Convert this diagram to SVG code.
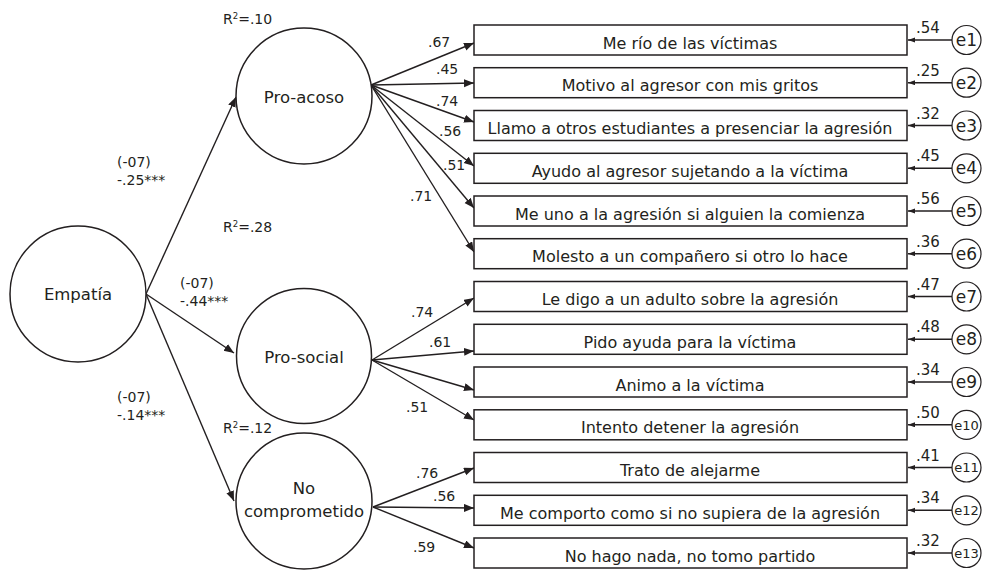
<svg xmlns="http://www.w3.org/2000/svg" width="983" height="570" viewBox="0 0 983 570">
<style>
text{font-family:"DejaVu Sans","Noto Sans",sans-serif;fill:#231f20}
.lat{fill:#fff;stroke:#231f20;stroke-width:1.5}
.box{fill:#fff;stroke:#231f20;stroke-width:1.5}
.err{fill:#fff;stroke:#231f20;stroke-width:1.2}
.c{stroke:#231f20;stroke-width:1.4;fill:none}
.lt{font-size:16.5px;text-anchor:middle}
.bt{font-size:16px;text-anchor:middle}
.w{font-size:14px}
.el{font-size:15px}
.et{font-size:17px;text-anchor:middle}
.es{font-size:13px;text-anchor:middle}
</style>
<defs>
<marker id="ah" markerUnits="userSpaceOnUse" markerWidth="11" markerHeight="9" refX="10" refY="4" orient="auto">
<path d="M0,0 L10,4 L0,8 Z" fill="#231f20"/>
</marker>
<marker id="as" markerUnits="userSpaceOnUse" markerWidth="8" markerHeight="6" refX="7" refY="2.5" orient="auto">
<path d="M0,0 L7,2.5 L0,5 Z" fill="#231f20"/>
</marker>
</defs>

<g id="connectors">
<line class="c" x1="146" y1="294" x2="236" y2="97" marker-end="url(#ah)"/>
<line class="c" x1="146" y1="294" x2="234" y2="353" marker-end="url(#ah)"/>
<line class="c" x1="146" y1="294" x2="234" y2="501" marker-end="url(#ah)"/>
<line class="c" x1="371" y1="85" x2="474" y2="43" marker-end="url(#ah)"/>
<line class="c" x1="371" y1="85" x2="474" y2="83" marker-end="url(#ah)"/>
<line class="c" x1="371" y1="85" x2="474" y2="122" marker-end="url(#ah)"/>
<line class="c" x1="371" y1="85" x2="474" y2="166" marker-end="url(#ah)"/>
<line class="c" x1="371" y1="85" x2="474" y2="208" marker-end="url(#ah)"/>
<line class="c" x1="371" y1="85" x2="474" y2="252" marker-end="url(#ah)"/>
<line class="c" x1="372" y1="360" x2="474" y2="298" marker-end="url(#ah)"/>
<line class="c" x1="372" y1="360" x2="474" y2="351" marker-end="url(#ah)"/>
<line class="c" x1="372" y1="360" x2="474" y2="390" marker-end="url(#ah)"/>
<line class="c" x1="372" y1="360" x2="474" y2="420" marker-end="url(#ah)"/>
<line class="c" x1="373" y1="507" x2="474" y2="468" marker-end="url(#ah)"/>
<line class="c" x1="373" y1="507" x2="474" y2="508" marker-end="url(#ah)"/>
<line class="c" x1="373" y1="507" x2="474" y2="548" marker-end="url(#ah)"/>
<line class="c" x1="952" y1="40" x2="908" y2="40" marker-end="url(#as)"/>
<line class="c" x1="952" y1="82.7" x2="908" y2="82.7" marker-end="url(#as)"/>
<line class="c" x1="952" y1="125.5" x2="908" y2="125.5" marker-end="url(#as)"/>
<line class="c" x1="952" y1="168.3" x2="908" y2="168.3" marker-end="url(#as)"/>
<line class="c" x1="952" y1="211" x2="908" y2="211" marker-end="url(#as)"/>
<line class="c" x1="952" y1="253.7" x2="908" y2="253.7" marker-end="url(#as)"/>
<line class="c" x1="952" y1="296.5" x2="908" y2="296.5" marker-end="url(#as)"/>
<line class="c" x1="952" y1="339.3" x2="908" y2="339.3" marker-end="url(#as)"/>
<line class="c" x1="952" y1="382" x2="908" y2="382" marker-end="url(#as)"/>
<line class="c" x1="952" y1="424.8" x2="908" y2="424.8" marker-end="url(#as)"/>
<line class="c" x1="952" y1="467.5" x2="908" y2="467.5" marker-end="url(#as)"/>
<line class="c" x1="952" y1="510.3" x2="908" y2="510.3" marker-end="url(#as)"/>
<line class="c" x1="952" y1="553" x2="908" y2="553" marker-end="url(#as)"/>
<!-- path coefficients -->
<text class="w" x="117" y="167">(-07)</text>
<text class="w" x="117" y="185">-.25***</text>
<text class="w" x="180" y="288">(-07)</text>
<text class="w" x="180" y="306">-.44***</text>
<text class="w" x="117" y="402">(-07)</text>
<text class="w" x="117" y="420">-.14***</text>
<text class="w" x="428" y="47">.67</text>
<text class="w" x="436" y="74">.45</text>
<text class="w" x="436" y="106">.74</text>
<text class="w" x="439" y="136">.56</text>
<text class="w" x="443" y="170">.51</text>
<text class="w" x="410" y="201">.71</text>
<text class="w" x="411" y="317">.74</text>
<text class="w" x="429" y="347">.61</text>
<text class="w" x="406" y="412">.51</text>
<text class="w" x="416" y="478">.76</text>
<text class="w" x="433" y="501">.56</text>
<text class="w" x="413" y="552">.59</text>
<!-- error loadings -->
<text class="el" x="916" y="33">.54</text>
<text class="el" x="916" y="75.7">.25</text>
<text class="el" x="916" y="118.5">.32</text>
<text class="el" x="916" y="161.3">.45</text>
<text class="el" x="916" y="204">.56</text>
<text class="el" x="916" y="246.7">.36</text>
<text class="el" x="916" y="289.5">.47</text>
<text class="el" x="916" y="332.3">.48</text>
<text class="el" x="916" y="375">.34</text>
<text class="el" x="916" y="417.8">.50</text>
<text class="el" x="916" y="460.5">.41</text>
<text class="el" x="916" y="503.3">.34</text>
<text class="el" x="916" y="546">.32</text>
</g>

<g id="empatia">
<circle class="lat" cx="78" cy="294" r="68"/>
<text class="lt" x="78" y="300">Empatía</text>
</g>
<g id="pro-acoso">
<circle class="lat" cx="304" cy="96" r="68"/>
<text class="lt" x="304" y="102.5">Pro-acoso</text>
<text class="w" x="223" y="24">R<tspan font-size="8.5" dy="-5">2</tspan><tspan dy="5">=.10</tspan></text>
</g>
<g id="pro-social">
<circle class="lat" cx="304" cy="356" r="67.5"/>
<text class="lt" x="304" y="362.5">Pro-social</text>
<text class="w" x="223" y="232">R<tspan font-size="8.5" dy="-5">2</tspan><tspan dy="5">=.28</tspan></text>
</g>
<g id="no-comprometido">
<circle class="lat" cx="304" cy="501" r="68"/>
<text class="lt" x="304" y="494">No</text>
<text class="lt" x="304" y="516.5">comprometido</text>
<text class="w" x="223" y="433">R<tspan font-size="8.5" dy="-5">2</tspan><tspan dy="5">=.12</tspan></text>
</g>

<g id="item1"><rect class="box" x="474" y="25" width="433" height="30"/><text class="bt" x="690" y="48.5">Me río de las víctimas</text></g>
<g id="item2"><rect class="box" x="474" y="67.7" width="433" height="30"/><text class="bt" x="690" y="91.2">Motivo al agresor con mis gritos</text></g>
<g id="item3"><rect class="box" x="474" y="110.5" width="433" height="30"/><text class="bt" x="690" y="134">Llamo a otros estudiantes a presenciar la agresión</text></g>
<g id="item4"><rect class="box" x="474" y="153.3" width="433" height="30"/><text class="bt" x="690" y="176.8">Ayudo al agresor sujetando a la víctima</text></g>
<g id="item5"><rect class="box" x="474" y="196" width="433" height="30"/><text class="bt" x="690" y="219.5">Me uno a la agresión si alguien la comienza</text></g>
<g id="item6"><rect class="box" x="474" y="238.7" width="433" height="30"/><text class="bt" x="690" y="262.2">Molesto a un compañero si otro lo hace</text></g>
<g id="item7"><rect class="box" x="474" y="281.5" width="433" height="30"/><text class="bt" x="690" y="305">Le digo a un adulto sobre la agresión</text></g>
<g id="item8"><rect class="box" x="474" y="324.3" width="433" height="30"/><text class="bt" x="690" y="347.8">Pido ayuda para la víctima</text></g>
<g id="item9"><rect class="box" x="474" y="367" width="433" height="30"/><text class="bt" x="690" y="390.5">Animo a la víctima</text></g>
<g id="item10"><rect class="box" x="474" y="409.8" width="433" height="30"/><text class="bt" x="690" y="433.3">Intento detener la agresión</text></g>
<g id="item11"><rect class="box" x="474" y="452.5" width="433" height="30"/><text class="bt" x="690" y="476">Trato de alejarme</text></g>
<g id="item12"><rect class="box" x="474" y="495.3" width="433" height="30"/><text class="bt" x="690" y="518.8">Me comporto como si no supiera de la agresión</text></g>
<g id="item13"><rect class="box" x="474" y="538" width="433" height="30"/><text class="bt" x="690" y="561.5">No hago nada, no tomo partido</text></g>

<g id="e1"><circle class="err" cx="966.5" cy="40" r="14.5"/><text class="et" x="966.5" y="46">e1</text></g>
<g id="e2"><circle class="err" cx="966.5" cy="82.7" r="14.5"/><text class="et" x="966.5" y="88.7">e2</text></g>
<g id="e3"><circle class="err" cx="966.5" cy="125.5" r="14.5"/><text class="et" x="966.5" y="131.5">e3</text></g>
<g id="e4"><circle class="err" cx="966.5" cy="168.3" r="14.5"/><text class="et" x="966.5" y="174.3">e4</text></g>
<g id="e5"><circle class="err" cx="966.5" cy="211" r="14.5"/><text class="et" x="966.5" y="217">e5</text></g>
<g id="e6"><circle class="err" cx="966.5" cy="253.7" r="14.5"/><text class="et" x="966.5" y="259.7">e6</text></g>
<g id="e7"><circle class="err" cx="966.5" cy="296.5" r="14.5"/><text class="et" x="966.5" y="302.5">e7</text></g>
<g id="e8"><circle class="err" cx="966.5" cy="339.3" r="14.5"/><text class="et" x="966.5" y="345.3">e8</text></g>
<g id="e9"><circle class="err" cx="966.5" cy="382" r="14.5"/><text class="et" x="966.5" y="388">e9</text></g>
<g id="e10"><circle class="err" cx="966.5" cy="424.8" r="14.5"/><text class="es" x="966.5" y="429.5">e10</text></g>
<g id="e11"><circle class="err" cx="966.5" cy="467.5" r="14.5"/><text class="es" x="966.5" y="472.2">e11</text></g>
<g id="e12"><circle class="err" cx="966.5" cy="510.3" r="14.5"/><text class="es" x="966.5" y="515">e12</text></g>
<g id="e13"><circle class="err" cx="966.5" cy="553" r="14.5"/><text class="es" x="966.5" y="557.7">e13</text></g>
</svg>
